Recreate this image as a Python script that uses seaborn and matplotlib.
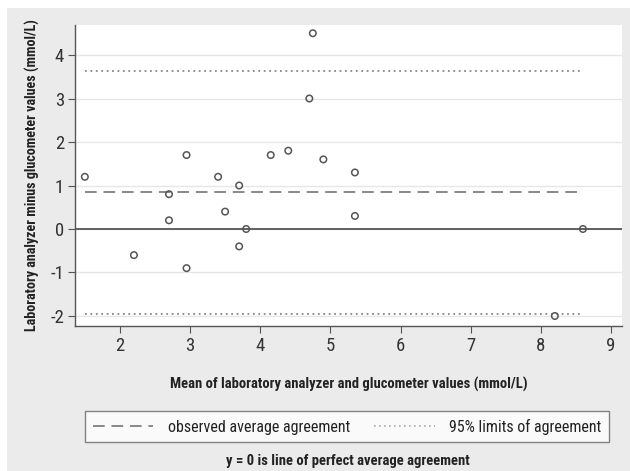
import numpy as np
import pandas as pd
import seaborn as sns
import matplotlib.pyplot as plt
from matplotlib.lines import Line2D

# Bland-Altman data
mean_vals = [1.5, 2.2, 2.7, 2.7, 2.95, 2.95, 3.4, 3.5, 3.7, 3.7,
             3.8, 4.15, 4.4, 4.7, 4.75, 4.9, 5.35, 5.35, 8.2, 8.6]
diff_vals = [1.2, -0.6, 0.8, 0.2, 1.7, -0.9, 1.2, 0.4, 1.0, -0.4,
             0.0, 1.7, 1.8, 3.0, 4.5, 1.6, 1.3, 0.3, -2.0, 0.0]
x_ticks = [2, 3, 4, 5, 6, 7, 8, 9]
y_ticks = [-2, -1, 0, 1, 2, 3, 4]

df = pd.DataFrame({'mean': mean_vals, 'diff': diff_vals})
avg = df['diff'].mean()
sd = df['diff'].std()
upper = avg + 1.96 * sd
lower = avg - 1.96 * sd

sns.set_style('white')
plt.rcParams['font.family'] = ['Roboto Condensed', 'Liberation Sans', 'DejaVu Sans']
plt.rcParams['axes.unicode_minus'] = False

fig = plt.figure(figsize=(6.3, 4.71), dpi=100)
fig.patch.set_facecolor('white')
# grey Stata-like backdrop
fig.patches.append(plt.Rectangle((7 / 630, 0), 1, 1 - 8 / 471, transform=fig.transFigure,
                                 facecolor='#ebebeb', edgecolor='none', zorder=-10))

ax = fig.add_axes([75 / 630, 1 - 326 / 471, (622 - 75) / 630, (326 - 25) / 471])
ax.set_facecolor('white')

for y in y_ticks:
    ax.axhline(y, color='#e6e6e6', lw=1, zorder=0)
ax.axhline(0, color='#555555', lw=1.3, zorder=1)

xmin, xmax = df['mean'].min(), df['mean'].max()
ax.hlines(avg, xmin, xmax, colors='#888888', linestyles=(0, (6, 3.5)), lw=1.4, zorder=2)
ax.hlines([upper, lower], xmin, xmax, colors='#888888', linestyles=(0, (1, 2)), lw=1.3, zorder=2)

sns.scatterplot(data=df, x='mean', y='diff', ax=ax, marker='o', s=22,
                facecolors='none', edgecolor='#555555', linewidth=1.1, zorder=3)

ax.set_xlim(1.36, 9.157)
ax.set_ylim(-2.23, 4.69)
ax.set_xticks(x_ticks)
ax.set_yticks(y_ticks)
ax.tick_params(axis='both', labelsize=13.5, length=5, color='#555555', direction='out',
               bottom=True, left=True, pad=3, labelcolor='#333333')
for side in ['top', 'right']:
    ax.spines[side].set_visible(False)
for side in ['left', 'bottom']:
    ax.spines[side].set_color('#555555')
    ax.spines[side].set_linewidth(1.0)

ax.set_xlabel('Mean of laboratory analyzer and glucometer values (mmol/L)',
              fontsize=10.5, fontweight='bold', color='#222222', labelpad=16)
ax.set_ylabel('Laboratory analyzer minus glucometer values (mmol/L)',
              fontsize=10.2, fontweight='bold', color='#222222', labelpad=7)

handles = [Line2D([], [], color='#888888', ls=(0, (6, 3.5)), lw=1.4),
           Line2D([], [], color='#aaaaaa', ls=(0, (1, 2)), lw=1.2)]
leg = fig.legend(handles, ['observed average agreement', '95% limits of agreement'],
                 loc='center', bbox_to_anchor=(347 / 630, 1 - 426.5 / 471), ncol=2,
                 fontsize=11.5, frameon=True, fancybox=False, handlelength=3.8,
                 columnspacing=1.5, borderpad=0.5, handletextpad=0.9)
leg.get_frame().set_edgecolor('#666666')
leg.get_frame().set_linewidth(1.0)
for t in leg.get_texts():
    t.set_color('#222222')

fig.text(348 / 630, 1 - 461 / 471, 'y = 0 is line of perfect average agreement',
         ha='center', va='center', fontsize=10.5, fontweight='bold', color='#222222')

fig.savefig('out.png', dpi=100)
